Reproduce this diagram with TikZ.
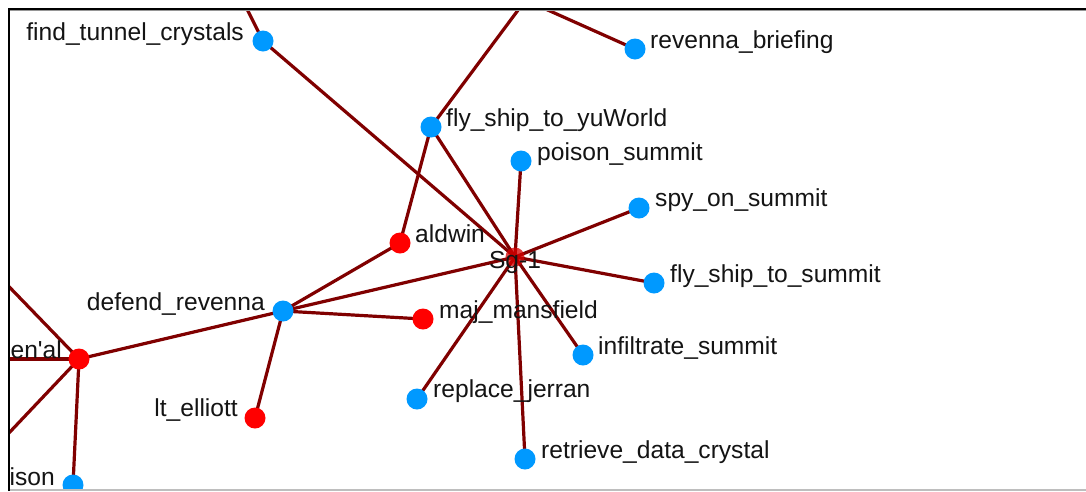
\documentclass[tikz,border=0pt]{standalone}
\usepackage{fontspec}
\newfontfamily\labfont{Liberation Sans}
\definecolor{edgecol}{RGB}{128,0,0}
\definecolor{bluenode}{RGB}{0,153,255}
\definecolor{rednode}{RGB}{255,0,0}
\definecolor{glowcol}{RGB}{215,0,0}
\definecolor{txtcol}{RGB}{20,20,20}
\definecolor{frameblk}{RGB}{0,0,0}
\definecolor{framegray}{RGB}{150,150,150}
\definecolor{framelight}{RGB}{190,190,190}
\pgfdeclarelayer{bg}
\pgfdeclarelayer{edges}
\pgfsetlayers{bg,edges,main}
\tikzset{
  edge/.style={draw=edgecol, line width=3.2pt},
  bnode/.style={circle, fill=bluenode, minimum size=21pt, inner sep=0pt},
  rnode/.style={circle, fill=rednode, minimum size=21pt, inner sep=0pt},
  gnode/.style={circle, fill=glowcol, fill opacity=0.75, minimum size=19pt, inner sep=0pt},
  lab/.style={inner sep=0pt, text=txtcol, font=\labfont\fontsize{24.6}{29}\selectfont},
}
\begin{document}
\begin{tikzpicture}[x=1pt,y=-1pt]
\useasboundingbox (0,0) rectangle (1086,491);
\begin{pgfonlayer}{bg}
\fill[white] (0,0) rectangle (1086,491);
\end{pgfonlayer}
\begin{scope}
\clip (10,11) rectangle (1086,489);
% off-screen ends
\coordinate (o1) at (237.5,-10);
\coordinate (o2) at (533,-10);
\coordinate (o3) at (503,-10);
\coordinate (o4) at (-10,267);
\coordinate (o5) at (-10,359);
\coordinate (o6) at (-10,453);
% nodes
\node[bnode] (ftc) at (263,41) {};
\node[bnode] (rb) at (635,49) {};
\node[bnode] (fsy) at (431,127) {};
\node[bnode] (ps) at (521,161) {};
\node[bnode] (sos) at (639,208) {};
\node[rnode] (ald) at (400,243) {};
\node[gnode] (sg1) at (515,257) {};
\node[bnode] (fss) at (654,283) {};
\node[bnode] (dr) at (283,311) {};
\node[rnode] (mm) at (423,319) {};
\node[rnode] (enal) at (79,359) {};
\node[bnode] (inf) at (583,355) {};
\node[bnode] (rj) at (417,399) {};
\node[rnode] (lte) at (255,418) {};
\node[bnode] (rdc) at (525,459) {};
\node[bnode] (ison) at (73,485) {};
% edges
\begin{pgfonlayer}{edges}
\clip (10,11) rectangle (1086,489);
\draw[edge] (o1) -- (ftc.center);
\draw[edge] (o2) -- (fsy.center);
\draw[edge] (o3) -- (rb.center);
\draw[edge] (o4) -- (enal.center);
\draw[edge] (o5) -- (enal.center);
\draw[edge] (o6) -- (enal.center);
\foreach \n in {ftc,fsy,ps,sos,fss,inf,rdc,rj,dr}
  \draw[edge] (sg1.center) -- (\n.center);
\draw[edge] (fsy.center) -- (ald.center);
\draw[edge] (dr.center) -- (ald.center);
\draw[edge] (dr.center) -- (mm.center);
\draw[edge] (dr.center) -- (lte.center);
\draw[edge] (dr.center) -- (enal.center);
\draw[edge] (enal.center) -- (ison.center);
\end{pgfonlayer}
% labels
\node[lab, anchor=base east] (lftc) at (244,40) {find\_tunnel\_crystals};
\node[lab, anchor=base west] (lrb) at (650,48) {revenna\_briefing};
\node[lab, anchor=base west] (lfsy) at (446,126) {fly\_ship\_to\_yuWorld};
\node[lab, anchor=base west] (lps) at (537,160) {poison\_summit};
\node[lab, anchor=base west] (lsos) at (655,206) {spy\_on\_summit};
\node[lab, anchor=base west] (lald) at (415,242) {aldwin};
\node[lab, anchor=base] (lsg1) at (515,268) {Sg-1};
\node[lab, anchor=base west] (lfss) at (670,282) {fly\_ship\_to\_summit};
\node[lab, anchor=base east] (ldr) at (265,310) {defend\_revenna};
\node[lab, anchor=base west] (lmm) at (439,318) {maj\_mansfield};
\node[lab, anchor=base east] (lenal) at (62,358) {en'al};
\node[lab, anchor=base west] (linf) at (598,354) {infiltrate\_summit};
\node[lab, anchor=base west] (lrj) at (433,397) {replace\_jerran};
\node[lab, anchor=base east] (llte) at (238,416) {lt\_elliott};
\node[lab, anchor=base west] (lrdc) at (541,458) {retrieve\_data\_crystal};
\node[lab, anchor=base east] (lison) at (55,485) {ison};
\end{scope}
% frame
\draw[framegray, line width=1pt] (10,10.5) -- (1086,10.5);
\draw[framelight, line width=2pt] (9,490) -- (1086,490);
\draw[frameblk, line width=2pt] (9,491) -- (9,9) -- (1086,9);
\end{tikzpicture}
\end{document}
